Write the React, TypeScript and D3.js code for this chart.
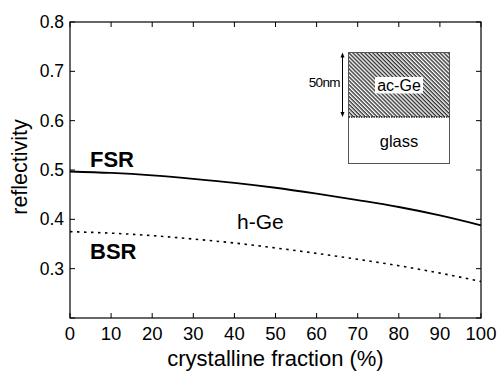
import React, { useRef, useEffect } from 'react';
import * as d3 from 'd3';

// values
const fractions = [0, 10, 20, 30, 40, 50, 60, 70, 80, 90, 100];
const fsr = [0.497, 0.494, 0.489, 0.482, 0.474, 0.464, 0.452, 0.439, 0.425, 0.408, 0.388];
const bsr = [0.375, 0.372, 0.367, 0.36, 0.352, 0.342, 0.331, 0.319, 0.306, 0.291, 0.274];
const xTicks = [0, 10, 20, 30, 40, 50, 60, 70, 80, 90, 100];
const yTicks = [0.2, 0.3, 0.4, 0.5, 0.6, 0.7, 0.8];
const yLabels = [0.3, 0.4, 0.5, 0.6, 0.7, 0.8];

const FONT = "'Liberation Sans', Arial, Helvetica, sans-serif";

const App = () => {
  const svgRef = useRef<SVGSVGElement>(null);

  useEffect(() => {
    const svg = d3.select(svgRef.current);
    svg.selectAll('*').remove();

    const width = 500, height = 377;
    const margin = { top: 22, right: 19, bottom: 59, left: 70 };
    const x = d3.scaleLinear().domain([0, 100]).range([margin.left, width - margin.right]);
    const y = d3.scaleLinear().domain([0.2, 0.8]).range([height - margin.bottom, margin.top]);

    svg.append('rect').attr('width', width).attr('height', height).attr('fill', 'white');

    // hatch pattern for the ac-Ge layer ("\\\" direction)
    const defs = svg.append('defs');
    const pat = defs.append('pattern')
      .attr('id', 'hatch')
      .attr('patternUnits', 'userSpaceOnUse')
      .attr('width', 2.8).attr('height', 2.8)
      .attr('patternTransform', 'rotate(45)');
    pat.append('rect').attr('width', 2.8).attr('height', 2.8).attr('fill', 'white');
    pat.append('line').attr('x1', 0).attr('y1', 0.7).attr('x2', 2.8).attr('y2', 0.7)
      .attr('stroke', '#222').attr('stroke-width', 1.3);

    const g = svg.append('g');

    // frame
    g.append('rect')
      .attr('x', x(0)).attr('y', y(0.8))
      .attr('width', x(100) - x(0)).attr('height', y(0.2) - y(0.8))
      .attr('fill', 'none').attr('stroke', 'black').attr('stroke-width', 1.2);

    const tl = 5;
    // x ticks (inward, bottom and top)
    xTicks.forEach(t => {
      g.append('line').attr('x1', x(t)).attr('x2', x(t))
        .attr('y1', y(0.2)).attr('y2', y(0.2) - tl).attr('stroke', 'black');
      g.append('line').attr('x1', x(t)).attr('x2', x(t))
        .attr('y1', y(0.8)).attr('y2', y(0.8) + tl).attr('stroke', 'black');
    });
    g.selectAll('.xlab').data(xTicks).enter().append('text')
      .attr('x', d => x(d)).attr('y', y(0.2) + 22)
      .attr('text-anchor', 'middle')
      .attr('font-family', FONT).attr('font-size', 18.5)
      .text(d => String(d));

    // y ticks (inward, left and right)
    yTicks.forEach(t => {
      g.append('line').attr('x1', x(0)).attr('x2', x(0) + tl)
        .attr('y1', y(t)).attr('y2', y(t)).attr('stroke', 'black');
      g.append('line').attr('x1', x(100)).attr('x2', x(100) - tl)
        .attr('y1', y(t)).attr('y2', y(t)).attr('stroke', 'black');
    });
    g.selectAll('.ylab').data(yLabels).enter().append('text')
      .attr('x', x(0) - 6).attr('y', d => y(d) + 6)
      .attr('text-anchor', 'end')
      .attr('font-family', FONT).attr('font-size', 17.5)
      .text(d => d.toFixed(1));

    // axis titles
    g.append('text')
      .attr('x', (x(0) + x(100)) / 2).attr('y', 366)
      .attr('text-anchor', 'middle')
      .attr('font-family', FONT).attr('font-size', 22)
      .text('crystalline fraction (%)');
    g.append('text')
      .attr('transform', `translate(27,${(y(0.2) + y(0.8)) / 2 - 3}) rotate(-90)`)
      .attr('text-anchor', 'middle')
      .attr('font-family', FONT).attr('font-size', 21.5)
      .text('reflectivity');

    // curves
    const line = d3.line<number>()
      .x((d, i) => x(fractions[i]))
      .y(d => y(d))
      .curve(d3.curveMonotoneX);

    g.append('path').datum(fsr).attr('d', line)
      .attr('fill', 'none').attr('stroke', 'black').attr('stroke-width', 1.8);
    g.append('path').datum(bsr).attr('d', line)
      .attr('fill', 'none').attr('stroke', 'black').attr('stroke-width', 1.6)
      .attr('stroke-dasharray', '2.5,4.5');

    // labels
    g.append('text').attr('x', 90).attr('y', 166.5)
      .attr('font-family', FONT).attr('font-size', 22).attr('font-weight', 'bold')
      .text('FSR');
    g.append('text').attr('x', 90).attr('y', 258.5)
      .attr('font-family', FONT).attr('font-size', 22).attr('font-weight', 'bold')
      .text('BSR');
    g.append('text').attr('x', 237).attr('y', 228.5)
      .attr('font-family', FONT).attr('font-size', 21)
      .text('h-Ge');

    // inset: layer stack
    const bx = 348.5, bw = 101, top = 52.5, mid = 117, bot = 163.5;
    g.append('rect').attr('x', bx).attr('y', top).attr('width', bw).attr('height', mid - top)
      .attr('fill', 'url(#hatch)').attr('stroke', 'none');
    g.append('rect').attr('x', bx).attr('y', top).attr('width', bw).attr('height', bot - top)
      .attr('fill', 'none').attr('stroke', '#555').attr('stroke-width', 1);
    g.append('line').attr('x1', bx).attr('x2', bx + bw).attr('y1', mid).attr('y2', mid)
      .attr('stroke', '#222').attr('stroke-width', 1.3).attr('stroke-dasharray', '1.5,1');

    g.append('rect').attr('x', 375).attr('y', 77).attr('width', 48).attr('height', 16.5)
      .attr('fill', 'white');
    g.append('text').attr('x', 399).attr('y', 91)
      .attr('text-anchor', 'middle')
      .attr('font-family', FONT).attr('font-size', 16)
      .text('ac-Ge');
    g.append('text').attr('x', 399).attr('y', 147)
      .attr('text-anchor', 'middle')
      .attr('font-family', FONT).attr('font-size', 16.5)
      .text('glass');

    // thickness arrow
    const ax = 342.5;
    g.append('line').attr('x1', ax).attr('x2', ax).attr('y1', top + 2).attr('y2', mid - 2)
      .attr('stroke', 'black').attr('stroke-width', 1);
    g.append('path').attr('d', `M${ax - 2},${top + 5} L${ax},${top} L${ax + 2},${top + 5} Z`).attr('fill', 'black');
    g.append('path').attr('d', `M${ax - 2},${mid - 5} L${ax},${mid} L${ax + 2},${mid - 5} Z`).attr('fill', 'black');
    g.append('text').attr('x', 340).attr('y', 87)
      .attr('text-anchor', 'end')
      .attr('font-family', FONT).attr('font-size', 13.5).attr('letter-spacing', -0.6)
      .text('50nm');
  }, []);

  return (
    <div style={{ position: 'absolute', left: 0, top: 0 }}>
      <svg ref={svgRef} width={500} height={377} style={{ display: 'block' }} />
    </div>
  );
};

export default App;
